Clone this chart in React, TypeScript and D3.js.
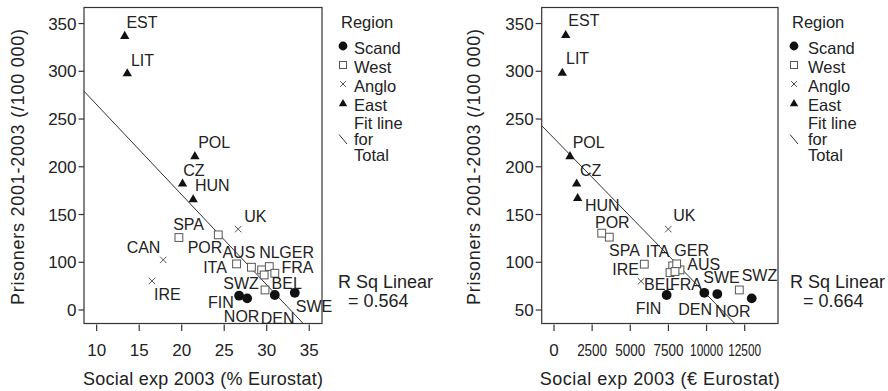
import * as d3 from 'd3';

// Countries and their region group
const countries = ['EST', 'LIT', 'POL', 'CZ', 'HUN', 'UK', 'CAN', 'IRE', 'SPA', 'POR', 'ITA', 'AUS', 'NL', 'GER', 'BEL', 'FRA', 'SWZ', 'FIN', 'NOR', 'DEN', 'SWE'];
const regions = ['East', 'East', 'East', 'East', 'East', 'Anglo', 'Anglo', 'Anglo', 'West', 'West', 'West', 'West', 'West', 'West', 'West', 'West', 'West', 'Scand', 'Scand', 'Scand', 'Scand'];

// Left panel: social expenditure as % (Eurostat) vs prisoners
const socialExpPct = [13.3, 13.6, 21.55, 20.1, 21.35, 26.64, 17.83, 16.5, 19.67, 24.3, 26.45, 28.2, 29.4, 30.3, 29.7, 30.95, 29.8, 26.75, 27.7, 30.95, 33.3];
const prisonersPct = [337.5, 298.4, 211.6, 183, 166.5, 134.7, 102.5, 80.4, 125.9, 128.7, 98.3, 94.8, 92, 95.5, 86.7, 88.5, 71, 65, 62.2, 65.7, 68];

// Right panel: social expenditure in € (Eurostat) vs prisoners (no € figure for CAN)
const socialExpEur = [767, 545, 1049, 1486, 1551, 7493, null, 5702, 3625, 3127, 5919, 8259, 7781, 8043, 7604, 7931, 12147, 7385, 12960, 9853, 10706];
const prisonersEur = [338.5, 299, 211.6, 183, 167.8, 134.7, null, 80.1, 126.3, 130.5, 98, 92, 96.2, 98.3, 89.2, 90.3, 71, 65.7, 62.2, 68, 66.7];

const leftXTicks = [10, 15, 20, 25, 30, 35];
const rightXTicks = [0, 2500, 5000, 7500, 10000, 12500];
const yTicks = [50, 100, 150, 200, 250, 300, 350];
const leftYTickLabels = ['0', '100', '150', '200', '250', '300', '350'];
const rightYTickLabels = ['50', '100', '150', '200', '250', '300', '350'];

const legendItems = ['Scand', 'West', 'Anglo', 'East'];
const rSqLeft = '0.564';
const rSqRight = '0.664';

// label placement (offset of text start from the marker), per panel
const leftLabelOffsets: [number, number][] = [
  [1.7, -7.7], [3.7, -7.3], [3.3, -7.7], [0.6, -6.6], [1.7, -8], [6, -7.6], [-36.6, -7.3], [2, 19],
  [-5.7, -7.7], [-30.6, 18.3], [-33.4, 9.3], [-29, -9.6], [-2.4, -12.3], [10, -9], [7.4, 14], [6.7, 0],
  [-41.7, -1], [-31, 12.6], [-23.3, 23.4], [-14, 29], [1, 19],
];
const rightLabelOffsets: ([number, number] | null)[] = [
  [2.6, -8.3], [3.7, -8.4], [2.7, -7.7], [3.3, -6.6], [7.3, 13.3], [5, -8.6], null, [-28.7, -6.4],
  [-0.3, 18.7], [-6.7, -5], [1.4, -7.3], [7.3, 0], null, [-2.4, -8], [-26, 17.3], [-5, 18.3],
  [2.4, -9.3], [-31, 19], [-36.7, 18.4], [-26, 22.3], [-14, -10.7],
];

const FONT = '"Liberation Sans", Arial, sans-serif';
const INK = '#222';

function Marker({ region, x, y, size = 1 }: { region: string; x: number; y: number; size?: number }) {
  if (region === 'Scand') return <circle cx={x} cy={y} r={4.9 * size} fill="#111" />;
  if (region === 'West') {
    const h = 3.9 * size;
    return <rect x={x - h} y={y - h} width={2 * h} height={2 * h} fill="#fff" stroke="#555" strokeWidth={1} />;
  }
  if (region === 'Anglo') {
    const h = 3.2 * size;
    return (
      <path d={`M${x - h},${y - h}L${x + h},${y + h}M${x - h},${y + h}L${x + h},${y - h}`}
        stroke="#555" strokeWidth={1} fill="none" />
    );
  }
  const tri = d3.symbol(d3.symbolTriangle, 38 * size * size)() || '';
  return <path d={tri} transform={`translate(${x},${y + 0.8})`} fill="#111" />;
}

function fitLine(xs: number[], ys: number[]) {
  const mx = d3.mean(xs)!;
  const my = d3.mean(ys)!;
  const sxy = d3.sum(xs, (x, i) => (x - mx) * (ys[i] - my));
  const sxx = d3.sum(xs, x => (x - mx) * (x - mx));
  const slope = sxy / sxx;
  return { slope, intercept: my - slope * mx };
}

interface PanelProps {
  id: string;
  xs: (number | null)[];
  ys: (number | null)[];
  offsets: ([number, number] | null)[];
  left: number;
  right: number;
  xDomain: [number, number];
  xTicks: number[];
  yTickLabels: string[];
  xTitle: string;
  yTitleX: number;
  legendX: number;
  legendTextX: number;
  rSqX: number;
  rSqValX: number;
  rSq: string;
  tickLen: number;
}

function Panel(p: PanelProps) {
  const top = 7.5;
  const bottom = 323.5;
  const x = d3.scaleLinear().domain(p.xDomain).range([p.left, p.right]);
  const y = d3.scaleLinear().domain([34.3, 366.8]).range([325, top]);

  const pts = countries
    .map((c, i) => ({ c, region: regions[i], vx: p.xs[i], vy: p.ys[i], off: p.offsets[i] }))
    .filter(d => d.vx != null && d.vy != null) as { c: string; region: string; vx: number; vy: number; off: [number, number] | null }[];

  const fit = fitLine(pts.map(d => d.vx), pts.map(d => d.vy));
  const [x0, x1] = p.xDomain;
  const line = d3.line<number>().x(v => x(v)).y(v => y(fit.intercept + fit.slope * v));

  const midX = (p.left + p.right) / 2;
  const legendRows = [47, 66, 85, 104];

  return (
    <g>
      <defs>
        <clipPath id={`clip-${p.id}`}>
          <rect x={p.left} y={top} width={p.right - p.left} height={bottom - top} />
        </clipPath>
      </defs>
      <rect x={p.left} y={top} width={p.right - p.left} height={bottom - top} fill="none" stroke="#333" strokeWidth={1.2} />

      {/* y axis */}
      {yTicks.map((t, i) => (
        <g key={t}>
          <line x1={p.left - p.tickLen} x2={p.left} y1={y(t)} y2={y(t)} stroke="#333" strokeWidth={1.2} />
          <text x={p.left - p.tickLen - 2} y={y(t)} dy="0.36em" textAnchor="end" fontSize={17} fill={INK}>
            {p.yTickLabels[i]}
          </text>
        </g>
      ))}
      <text transform={`translate(${p.yTitleX},167) rotate(-90)`} textAnchor="middle" fontSize={18}
        textLength={276} lengthAdjust="spacing" fill={INK}>
        Prisoners 2001-2003 (/100 000)
      </text>

      {/* x axis */}
      {p.xTicks.map(t => {
        const lbl = String(t);
        return (
          <g key={t}>
            <line x1={x(t)} x2={x(t)} y1={bottom + 1} y2={bottom + 7.5} stroke="#333" strokeWidth={1.2} />
            <text x={x(t)} y={356} textAnchor="middle" fontSize={17} fill={INK}
              {...(lbl.length >= 4 ? { textLength: lbl.length === 5 ? 33 : 30, lengthAdjust: 'spacingAndGlyphs' } : {})}>
              {lbl}
            </text>
          </g>
        );
      })}
      <text x={midX} y={385} textAnchor="middle" fontSize={18} textLength={240} lengthAdjust="spacing" fill={INK}>
        {p.xTitle}
      </text>

      {/* fit line */}
      <path d={line([x0, x1]) || ''} stroke="#333" strokeWidth={1} fill="none" clipPath={`url(#clip-${p.id})`} />

      {/* points */}
      {pts.map(d => (
        <Marker key={d.c} region={d.region} x={x(d.vx)} y={y(d.vy)} />
      ))}
      {pts.filter(d => d.off).map(d => (
        <text key={d.c} x={x(d.vx) + d.off![0]} y={y(d.vy) + d.off![1]} fontSize={16} fill={INK}>
          {d.c}
        </text>
      ))}

      {/* legend */}
      <text x={p.legendX - 1} y={27.5} fontSize={16.5} fill={INK}>Region</text>
      {legendItems.map((r, i) => (
        <g key={r}>
          <Marker region={r} x={p.legendX + 1} y={legendRows[i] - 1} size={0.9} />
          <text x={p.legendTextX} y={legendRows[i] + 6.5} fontSize={16.5} fill={INK}>{r}</text>
        </g>
      ))}
      <line x1={p.legendX - 3} y1={134.5} x2={p.legendX + 5} y2={144} stroke="#333" strokeWidth={1} />
      <text x={p.legendTextX} y={128.5} fontSize={16.5} fill={INK}>Fit line</text>
      <text x={p.legendTextX} y={145} fontSize={16.5} fill={INK}>for</text>
      <text x={p.legendTextX} y={161} fontSize={16.5} fill={INK}>Total</text>

      {/* R squared */}
      <text x={p.rSqX} y={288} fontSize={18} fill={INK}>R Sq Linear</text>
      <text x={p.rSqValX} y={307} fontSize={18} fill={INK}>= {p.rSq}</text>
    </g>
  );
}

export default function App() {
  return (
    <svg width={888} height={391} style={{ position: 'absolute', left: 0, top: 0, background: '#fff', fontFamily: FONT }}>
      <Panel
        id="pct" xs={socialExpPct} ys={prisonersPct} offsets={leftLabelOffsets}
        left={84} right={322} xDomain={[8.51, 36.5]} xTicks={leftXTicks} yTickLabels={leftYTickLabels}
        xTitle="Social exp 2003 (% Eurostat)" yTitleX={24}
        legendX={342} legendTextX={354} rSqX={338} rSqValX={348} rSq={rSqLeft} tickLen={5.5}
      />
      <Panel
        id="eur" xs={socialExpEur} ys={prisonersEur} offsets={rightLabelOffsets}
        left={541.7} right={778} xDomain={[-806, 14684]} xTicks={rightXTicks} yTickLabels={rightYTickLabels}
        xTitle="Social exp 2003 (€ Eurostat)" yTitleX={480}
        legendX={793} legendTextX={808} rSqX={790} rSqValX={803} rSq={rSqRight} tickLen={6}
      />
    </svg>
  );
}
